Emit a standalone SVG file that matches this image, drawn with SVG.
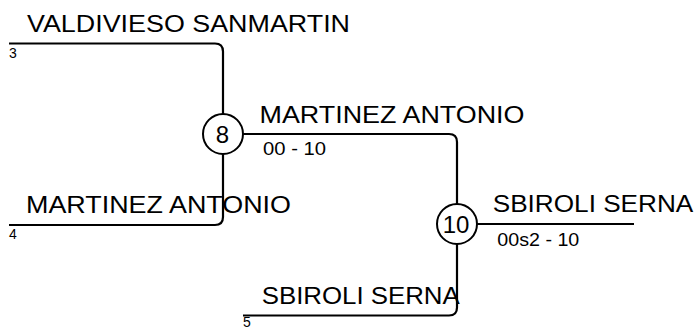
<svg xmlns="http://www.w3.org/2000/svg" width="700" height="329" viewBox="0 0 700 329">
<style>
.ln{fill:none;stroke:#000;stroke-width:2.2}
.nd{fill:#fff;stroke:#000;stroke-width:2}
text{font-family:"Liberation Sans",Arial,sans-serif;fill:#000}
.nm{font-size:24px}
.sd{font-size:14px}
.sc{font-size:18px}
.nl{font-size:24px;text-anchor:middle}
</style>
<g id="connectors">
<path class="ln" d="M9 43.5H215Q223 43.5 223 51.5V114"/>
<path class="ln" d="M9 225H215Q223 225 223 217V154"/>
<path class="ln" d="M243 134H449Q457 134 457 142V204"/>
<path class="ln" d="M243 315.5H449Q457 315.5 457 307.5V244"/>
<path class="ln" d="M477 224H634"/>
</g>
<g id="team3">
<text class="nm" x="27" y="31.5" textLength="323" lengthAdjust="spacingAndGlyphs">VALDIVIESO SANMARTIN</text>
<text class="sd" x="9" y="58">3</text>
</g>
<g id="team4">
<text class="nm" x="26" y="213" textLength="265" lengthAdjust="spacingAndGlyphs">MARTINEZ ANTONIO</text>
<text class="sd" x="9" y="239">4</text>
</g>
<g id="team5">
<text class="nm" x="261.7" y="304" textLength="198" lengthAdjust="spacingAndGlyphs">SBIROLI SERNA</text>
<text class="sd" x="243" y="327">5</text>
</g>
<g id="node8">
<circle class="nd" cx="223" cy="134" r="20"/>
<text class="nl" x="222.5" y="142.5">8</text>
<text class="nm" x="259.5" y="123" textLength="265" lengthAdjust="spacingAndGlyphs">MARTINEZ ANTONIO</text>
<text class="sc" x="263" y="155" textLength="63" lengthAdjust="spacingAndGlyphs">00 - 10</text>
</g>
<g id="node10">
<circle class="nd" cx="457" cy="224" r="20"/>
<text class="nl" x="456" y="232.5">10</text>
<text class="nm" x="492.7" y="211.5" textLength="200.6" lengthAdjust="spacingAndGlyphs">SBIROLI SERNA</text>
<text class="sc" x="497.3" y="245.5" textLength="82" lengthAdjust="spacingAndGlyphs">00s2 - 10</text>
</g>
</svg>
